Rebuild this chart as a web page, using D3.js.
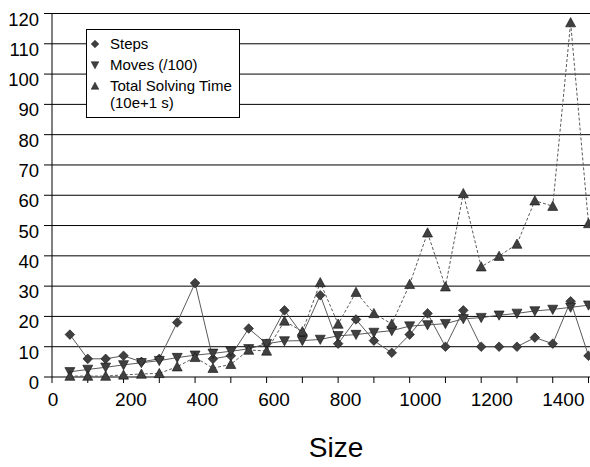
<!DOCTYPE html>
<html><head><meta charset="utf-8">
<script src="https://cdn.jsdelivr.net/npm/d3@7"></script>
<style>body{margin:0;background:#fff}svg{display:block}</style>
</head><body><svg id="c" width="590" height="467"></svg>
<script>
const sizes = [50,100,150,200,250,300,350,400,450,500,550,600,650,700,750,800,850,900,950,1000,1050,1100,1150,1200,1250,1300,1350,1400,1450,1500];
const steps = [14,6,6,7,5,6,18,31,6,7,16,11,22,14,27,11,19,12,8,14,21,10,22,10,10,10,13,11,25,7];
const moves = [1.7,2.5,3.2,4,4.7,5.4,6.4,7.2,7.8,8.5,9.3,11,11.9,12,12.4,13.6,14,14.7,15.3,16.8,17.2,17.6,19.2,19.6,20.4,21,21.8,22.3,23,23.7];
const timeS = [0.3,0.3,0.3,0.7,1,1.2,3.4,6.5,2.9,4.2,8.9,8.6,18.5,15,31.2,17.5,28,21,17.5,30.6,47.6,29.8,60.6,36.4,39.9,43.9,58.2,56.4,117,50.7];
const yTicks = [0,10,20,30,40,50,60,70,80,90,100,110,120];
const xTicks = [0,100,200,300,400,500,600,700,800,900,1000,1100,1200,1300,1400,1500];
const xLabels = [0,200,400,600,800,1000,1200,1400];
const legendItems = ["Steps","Moves (/100)","Total Solving Time","(10e+1 s)"];

const svg = d3.select("#c");
const x = d3.scaleLinear().domain([0,1500]).range([52,588.5]);
const y = d3.scaleLinear().domain([0,120]).range([377,13.5]);
const font = "Liberation Sans, Arial, sans-serif";

// gridlines
svg.append("g").selectAll("line").data(yTicks).join("line")
  .attr("x1",44).attr("x2",590).attr("y1",d=>y(d)).attr("y2",d=>y(d))
  .attr("stroke","#000").attr("stroke-width",1);
// y axis line
svg.append("line").attr("x1",x(0)).attr("x2",x(0)).attr("y1",y(120)).attr("y2",y(0)).attr("stroke","#000");
// x ticks
svg.append("g").selectAll("line").data(xTicks).join("line")
  .attr("x1",d=>x(d)).attr("x2",d=>x(d)).attr("y1",y(0)).attr("y2",y(0)+6).attr("stroke","#000");
// y labels
svg.append("g").selectAll("text").data(yTicks).join("text")
  .attr("x",39).attr("y",d=>y(d)+12).attr("text-anchor","end")
  .attr("font-family",font).attr("font-size",18.5).text(d=>d);
// x labels
svg.append("g").selectAll("text").data(xLabels).join("text")
  .attr("x",d=>x(d)+1+(String(d).length-1)*3.2).attr("y",406).attr("text-anchor","middle")
  .attr("font-family",font).attr("font-size",19).text(d=>d);
svg.append("text").attr("x",336).attr("y",457).attr("text-anchor","middle")
  .attr("font-family",font).attr("font-size",28).text("Size");

const line = d3.line().x(d=>x(d[0])).y(d=>y(d[1]));
const pts = arr => sizes.map((s,i)=>[s,arr[i]]);

const diamond = r => `M0,${-r}L${r},0L0,${r}L${-r},0Z`;
const triUp = r => `M0,${-r}L${r},${r*0.85}L${-r},${r*0.85}Z`;
const triDown = r => `M0,${r}L${r},${-r*0.85}L${-r},${-r*0.85}Z`;

function series(arr, dash, shape){
  svg.append("path").datum(pts(arr)).attr("d",line).attr("fill","none")
    .attr("stroke","#5a5a5a").attr("stroke-width",1).attr("stroke-dasharray",dash);
  svg.append("g").selectAll("path").data(pts(arr)).join("path")
    .attr("transform",d=>`translate(${x(d[0])},${y(d[1])})`)
    .attr("d",shape).attr("fill","#404040").attr("stroke","#111").attr("stroke-width",0.6);
}
series(steps,null,diamond(4.8));
series(moves,null,triDown(5));
series(timeS,"3,2",triUp(5));

// legend
const lg = svg.append("g");
lg.append("rect").attr("x",86.5).attr("y",29.5).attr("width",153).attr("height",88)
  .attr("fill","#fff").attr("stroke","#000");
const shapes=[diamond(3.8),triDown(3.8),triUp(3.8)];
const rows=[44,65,86,103];
lg.selectAll("path").data(shapes).join("path")
  .attr("transform",(d,i)=>`translate(95,${rows[i]})`).attr("d",d=>d)
  .attr("fill","#404040").attr("stroke","#111").attr("stroke-width",0.5);
lg.selectAll("text").data(legendItems).join("text")
  .attr("x",110).attr("y",(d,i)=>rows[i]+5)
  .attr("font-family",font).attr("font-size",15).text(d=>d);
</script></body></html>
